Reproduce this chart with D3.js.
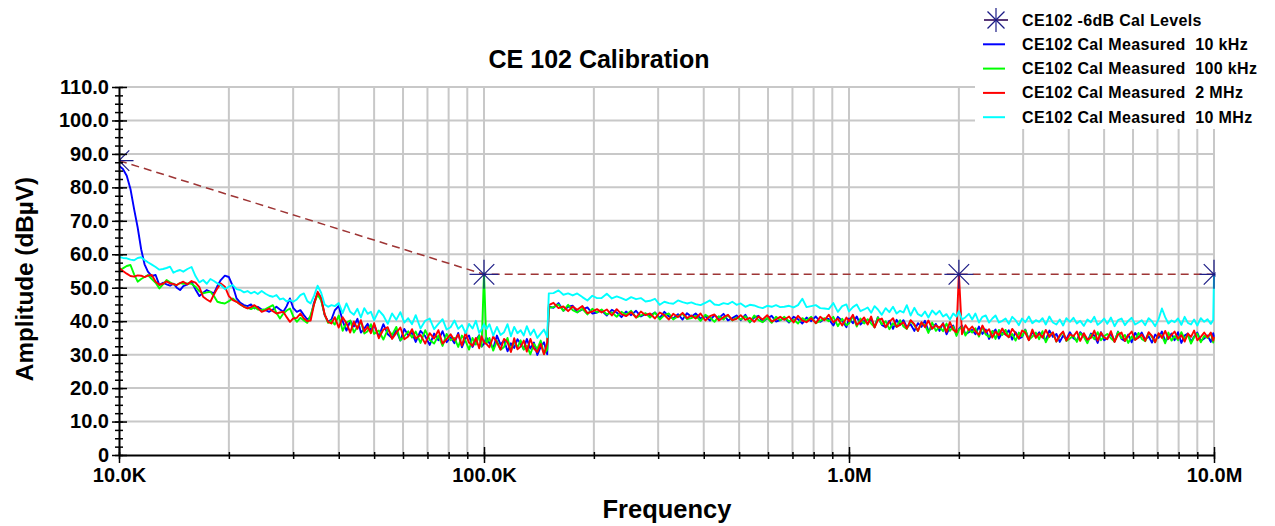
<!DOCTYPE html>
<html><head><meta charset="utf-8">
<script src="https://cdn.jsdelivr.net/npm/d3@7"></script>
<style>
body{margin:0;background:#fff}
text{font-family:"Liberation Sans",Arial,sans-serif;font-weight:bold;fill:#000}
</style>
</head><body>
<svg id="c" width="1275" height="526"></svg>
<script>
// ---------- DATA ----------
const freqKHz = [
10,10.25,10.5,10.75,11,11.25,11.5,11.75,12,12.3,
12.6,12.9,13.2,13.5,13.8,14.1,14.4,14.7,15,15.4,
15.8,16.2,16.6,17,17.4,17.8,18.2,18.6,19,19.5,
20,20.5,21,21.5,22,22.5,23,23.5,24,24.6,
25.2,25.8,26.4,27,27.6,28.2,28.8,29.4,30,30.7,
31.4,32.1,32.8,33.5,34.2,35,35.8,36.6,37.4,38.2,
39,40,41,42,43,44,45,46,47,48,
49,50,51.5,53,54.5,56,57.5,59,60.5,62,
63.5,65,67,69,71,73,75,77,79,81,
83,85,87,89,91,93,95,97,98.5,100,
101.5,103.5,106,108.5,111,113.5,116,118.5,121,123.5,
126,128.5,131,134,137,140,143,146,149,150.5,
155,160,165,170,175,180,186,192,198,204,
210,217,224,231,238,245,253,261,269,277,
285,294,303,312,321,330,340,350,360,370,
380,392,404,416,428,440,453,466,479,492,
505,520,535,550,565,580,597,614,631,648,
665,685,705,725,745,765,788,811,834,857,
880,906,932,958,984,1000,1025,1050,1075,1100,
1125,1150,1175,1200,1230,1260,1290,1320,1350,1380,
1410,1440,1475,1510,1545,1580,1615,1650,1690,1730,
1770,1810,1850,1890,1930,1970,2000,2040,2085,2130,
2175,2220,2270,2320,2370,2420,2470,2520,2575,2630,
2685,2740,2800,2860,2920,2980,3040,3110,3180,3250,
3320,3390,3460,3540,3620,3700,3780,3860,3940,4030,
4120,4210,4300,4400,4500,4600,4700,4800,4900,5000,
5100,5220,5340,5460,5580,5700,5820,5950,6080,6210,
6340,6480,6620,6760,6900,7050,7200,7350,7500,7650,
7800,7970,8140,8310,8480,8650,8820,9000,9200,9400,
9600,9800,9950,10000];

const measured10kHz = [
86.5,85.5,83.5,79.5,73.5,68,61.5,57,54.8,53.5,
53.8,50.8,51.5,51,50.6,51.2,50,49.3,50.5,51,
51.8,49.5,47.5,48.5,49.3,48.8,48.3,50.5,52.3,53.6,
53.2,50.5,46.8,45.5,44.8,44.5,45,43.8,44.3,43.5,
43.3,42.8,43.5,44.3,43.5,42.8,44.5,46.8,44,42.8,
43.3,41.8,40.5,41.2,45.5,48.3,46.5,41.8,39.8,40.5,
43.2,44.6,40.0,37.2,40.1,38.4,40.7,36.6,37.8,39.2,
37.2,38.9,35.4,39.1,36.1,35.0,37.3,34.2,37.7,35.8,
36.5,33.8,37.1,35.5,32.9,36.3,34.3,37.0,33.7,35.2,
33.4,36.5,32.2,34.9,35.7,32.3,34.2,35.8,32.4,33.3,
35.1,33.4,31.9,35.7,33.0,34.3,31.0,33.4,32.0,34.6,
33.3,31.6,34.7,31.8,33.6,29.9,32.3,33.7,30.1,44.3,
44.0,45.4,43.1,44.3,44.6,42.7,43.5,44.1,42.3,42.6,
43.2,41.7,43.4,42.6,41.2,42.9,41.8,43.1,41.4,42.2,
41.7,42.6,40.9,42.8,41.4,40.8,42.1,40.5,42.4,41.3,
42.3,40.8,41.5,40.2,41.8,40.9,42.2,40.2,40.9,41.7,
40.3,41.9,39.7,41.1,41.6,39.8,40.8,41.6,39.9,40.3,
41.0,39.6,41.3,40.6,39.3,41.1,40.0,41.4,39.8,40.7,
40.7,38.7,41.3,40.1,38.2,40.8,39.4,41.4,39.0,40.1,
39.3,40.7,38.2,41.2,38.9,38.2,40.1,37.7,40.4,38.9,
40.3,38.2,39.1,37.1,39.4,38.3,40.1,37.1,38.0,39.2,
37.1,39.4,36.1,38.2,38.7,36.1,37.6,38.7,36.1,36.7,
37.4,36.1,38.4,36.2,37.5,34.7,36.5,37.5,34.8,36.6,
36.0,37.3,34.5,36.7,34.8,35.3,37.5,34.4,36.8,35.3,
36.7,35.4,34.3,37.2,35.3,36.2,33.8,35.7,34.6,36.7,
34.9,34.2,36.7,35.5,33.9,36.3,35.7,33.5,36.7,34.3,
34.9,36.3,33.9,36.9,34.7,34.1,36.0,33.7,36.5,35.1,
36.6,34.5,35.5,33.6,36.0,35.0,36.9,34.0,35.0,36.3,
34.3,36.7,33.5,35.7,36.3,33.8,35.4,36.6,34.1,34.8,
35.7,33.8,36.4,35.3];

const measured100kHz = [
55,55.8,56.5,56.8,54,51.8,52.6,53.2,53.8,52.6,
51.5,49.8,51,52.3,51.6,51,50.8,51.4,51.2,51.3,
51.2,50.3,49,48.3,48.6,48.8,47.5,45.8,45.5,45.3,
46,46.8,45.8,45,44.3,44,43.6,44.2,43.5,43.3,
43.6,44.2,44.8,42.5,40.8,42.3,43.2,43.8,41.5,39.8,
41,40.2,39.5,41.8,45,48,46.2,42,39.5,40.2,
39.0,41.7,37.1,39.6,40.2,36.6,38.3,39.8,36.3,37.0,
39.1,36.2,37.2,34.5,37.5,35.9,38.3,34.3,35.5,37.0,
35.1,36.9,33.5,37.3,34.4,33.3,35.7,32.6,36.2,34.3,
35.0,32.3,35.7,34.1,31.5,35.0,33.0,35.7,32.4,54.3,
33.3,35.0,31.2,34.1,31.5,32.3,35.0,31.0,34.1,32.1,
34.3,31.5,32.7,30.1,33.2,31.7,34.2,30.2,31.5,44,
44.2,45.0,43.1,44.9,43.3,42.6,43.7,42.0,43.7,42.6,
43.5,42.0,42.6,41.3,42.8,41.9,43.1,41.1,41.7,42.4,
41.1,42.6,40.5,41.8,42.3,40.5,41.5,42.2,40.6,40.9,
41.6,40.1,41.9,41.1,39.8,41.5,40.5,41.8,40.2,41.1,
40.5,41.5,39.7,41.7,40.3,39.7,41.0,39.5,41.3,40.3,
41.3,39.9,40.5,39.3,40.9,40.1,41.3,39.4,40.1,40.9,
40.0,41.3,38.5,40.7,38.8,39.3,41.5,38.4,40.8,39.3,
40.6,39.3,38.2,41.1,39.1,40.0,37.6,39.4,38.3,40.3,
38.4,37.7,40.1,38.8,37.1,39.5,38.8,36.5,39.6,37.1,
38.3,37.0,39.3,37.1,38.4,35.6,37.4,38.4,35.7,37.5,
36.6,37.9,35.4,38.3,36.0,35.3,37.1,34.7,37.4,35.9,
37.4,35.2,36.2,34.2,36.6,35.5,37.4,34.4,35.4,36.6,
34.6,37.0,33.7,35.9,36.5,33.9,35.5,36.7,34.1,34.8,
35.7,33.8,36.4,35.3,33.4,36.0,34.6,36.7,34.3,35.5,
36.2,34.9,33.9,36.8,34.9,35.9,33.5,35.4,34.4,36.5,
34.7,34.0,36.5,35.3,33.7,36.2,35.6,33.4,36.6,34.2,
35.5,34.3,36.7,34.6,36.0,33.3,35.2,36.3,33.7,35.6,
35.0,36.4,33.6,35.2];

const measured2MHz = [
56,55,54.2,53.5,53.3,53.7,53.6,53.2,53.6,53.8,
51.8,50.9,51.2,51.9,51.3,51.1,50.8,51.4,51.8,51,
52,51.5,50.2,47.3,46.5,45.8,48,49.8,51.3,50.3,
47.5,46.3,45.8,45,44.3,43.8,44.2,44.8,44,42.8,
43.2,43.8,43,42.3,42.6,42.8,41.2,39.8,40.8,41,
42.3,40.8,40,40.2,44.8,48.8,47,42,39.8,39.3,
41.2,38.1,41.2,39.4,36.6,39.9,37.7,40.3,36.9,38.3,
36.4,39.4,34.9,37.5,38.2,34.7,36.5,38.1,34.6,35.4,
37.6,34.8,35.9,33.3,36.4,34.8,37.3,33.3,34.6,36.1,
34.2,36.0,32.7,36.5,33.6,32.6,35.0,31.9,35.5,33.7,
33.2,32.2,35.4,33.6,31.5,34.7,33.7,30.8,34.9,31.6,
32.4,34.2,30.9,34.7,31.8,30.8,33.2,30.1,33.7,44.8,
45.5,43.9,44.4,43.0,44.4,43.4,44.5,42.4,42.9,43.6,
42.6,43.5,41.7,43.6,42.1,41.5,42.7,41.1,42.9,41.8,
42.3,40.8,42.6,41.8,40.5,42.2,41.2,42.5,40.9,41.7,
40.8,42.3,40.2,41.5,42.0,40.2,41.2,41.9,40.3,40.7,
41.8,40.4,41.0,39.8,41.4,40.5,41.8,39.9,40.5,41.3,
40.4,41.4,39.6,41.6,40.2,39.7,40.9,39.4,41.3,40.3,
41.9,39.7,40.7,38.7,41.1,40.0,41.9,38.9,39.9,41.1,
39.0,41.4,38.1,40.3,40.8,38.2,39.8,40.9,38.3,38.9,
39.7,37.8,40.3,39.1,37.1,39.7,38.2,40.2,37.7,38.8,
38.0,39.3,36.8,39.7,37.4,36.7,54.3,36.1,38.8,37.3,
38.4,37.0,35.9,38.7,36.7,37.6,35.1,36.9,35.8,37.8,
36.0,35.2,37.7,36.4,34.8,37.2,36.6,34.3,37.5,35.0,
36.3,35.1,37.4,35.3,36.7,33.9,35.8,36.9,34.2,36.1,
35.5,36.9,34.1,36.4,34.5,35.0,37.2,34.2,36.6,35.2,
34.6,37.0,33.8,36.0,36.6,34.1,35.7,36.9,34.4,35.1,
36.0,34.1,36.7,35.6,33.7,36.4,35.0,37.1,34.7,35.9,
36.9,34.8,35.8,33.9,36.3,35.3,37.2,34.3,35.3,36.6,
35.2,36.6,34.2,35.3];

const measured10MHz = [
59.2,58.9,58.8,58.4,58.2,58.9,59.1,58.3,57.6,56.9,
56.2,55.4,55.6,55.9,56.3,54.5,55,55.3,54.8,55.6,
56.2,53.5,51.6,52.3,51.2,52.6,52,51.3,50.8,49.6,
50.3,50.8,49.6,49.3,48.6,49,48.3,48.8,48.1,49,
48.2,47.6,47.3,47.8,46.5,46.8,45.9,46.3,45.8,46.5,
47.8,48.3,46,45.3,47.5,50.6,48.5,45,44.3,44.8,
44.5,45.4,42.4,45.3,42.8,41.9,43.7,41.1,43.9,42.2,
42.8,40.3,43.2,41.7,39.2,42.3,40.4,42.7,39.6,40.9,
39.1,41.8,37.8,40.1,40.8,37.6,39.2,40.6,37.5,38.2,
40.2,37.7,38.8,36.4,39.2,37.8,40.1,36.5,37.6,39.1,
37.6,39.1,35.7,38.3,35.9,36.7,39.1,35.5,38.3,36.4,
37.3,35.7,38.5,35.9,37.5,35.0,36.3,37.5,35.2,48.3,
48.4,49.2,47.9,48.3,47.7,48.3,47.2,46.2,47.6,46.9,
46.9,48.2,46.8,47.4,46.9,46.3,47.2,46.6,46.9,45.9,
46.1,46.7,44.9,45.8,45.4,45.2,46.2,45.7,45.3,45.6,
45.1,44.8,45.5,46.2,45,44.8,45.4,45.1,45.8,44.9,
45.3,44.3,44.9,44.7,44.2,43.9,44.6,44.3,44.8,44.2,
44.3,44.6,44.1,44.8,46.7,44.2,44.5,44.8,43.9,43.8,
43.6,45.4,42.8,44.5,45.0,42.9,44.2,45.0,43.0,43.5,
44.1,42.5,44.5,43.5,41.9,43.9,42.7,44.3,42.3,43.1,
42.6,44.8,41.7,44.0,42.1,41.5,42.9,41.1,43.2,42.0,
43.1,41.4,42.1,40.5,42.3,41.4,43.0,40.5,41.2,42.2,
40.5,42.3,39.6,41.3,41.7,39.6,40.8,41.7,39.6,40.1,
40.8,39.2,41.3,40.3,38.8,40.8,39.7,41.4,39.4,40.3,
39.8,40.9,39.0,41.4,39.6,39.0,40.5,38.7,40.9,39.8,
41.0,39.3,40.1,38.6,40.5,39.7,41.3,38.9,39.7,40.8,
39.2,41.1,38.5,40.3,40.8,38.8,40.1,41.0,39.0,39.6,
40.3,38.8,40.9,40.0,38.5,40.6,43.8,41.2,39.3,40.2,
39.7,40.8,38.9,41.3,39.5,39.0,40.5,38.7,40.9,39.8,
40.6,39.2,40.3,54];

const calFreqKHz = [10, 100, 2000, 10000];
const calLevel   = [88, 54, 54, 54];

const yTickValues = [0,10,20,30,40,50,60,70,80,90,100,110];
const yTickLabels = ["0","10.0","20.0","30.0","40.0","50.0","60.0","70.0","80.0","90.0","100.0","110.0"];
const xTickValues = [10,100,1000,10000];
const xTickLabels = ["10.0K","100.0K","1.0M","10.0M"];

const seriesNames  = ["CE102 Cal Measured  10 kHz","CE102 Cal Measured  100 kHz","CE102 Cal Measured  2 MHz","CE102 Cal Measured  10 MHz"];
const seriesColors = ["#0000ff","#00ff00","#ff0000","#00ffff"];
const calName = "CE102 -6dB Cal Levels";

// ---------- DRAW ----------
const W = 1275, H = 526;
const L = 119, R = 1214, T = 87, B = 455;
const svg = d3.select("#c");
const x = d3.scaleLog().domain([10, 10000]).range([L, R]);
const y = d3.scaleLinear().domain([0, 110]).range([B, T]);

svg.append("rect").attr("width", W).attr("height", H).attr("fill", "#fff");

const defs = svg.append("defs");
defs.append("clipPath").attr("id", "plotclip").append("rect")
  .attr("x", L).attr("y", T - 2).attr("width", R - L + 1.5).attr("height", B - T + 2);

// grid
const grid = svg.append("g").attr("stroke", "#c8c8c8").attr("stroke-width", 2);
grid.selectAll("line.v").data(x.ticks().filter(d => d > 10)).join("line")
  .attr("x1", d => x(d)).attr("x2", d => x(d)).attr("y1", T).attr("y2", B);
grid.selectAll("line.h").data(yTickValues.filter(d => d > 0)).join("line")
  .attr("x1", L).attr("x2", R).attr("y1", d => y(d)).attr("y2", d => y(d));

const plot = svg.append("g").attr("clip-path", "url(#plotclip)");

// cal dashed line
plot.append("path")
  .datum(calLevel)
  .attr("fill", "none").attr("stroke", "#9e3535").attr("stroke-width", 1.5)
  .attr("stroke-dasharray", "8,5")
  .attr("d", d3.line().x((d, i) => x(calFreqKHz[i])).y(d => y(d)));

// measured series
const allSeries = [measured10kHz, measured100kHz, measured2MHz, measured10MHz];
const line = d3.line().x((d, i) => x(freqKHz[i])).y(d => y(d));
allSeries.forEach((s, k) => {
  plot.append("path").datum(s)
    .attr("fill", "none").attr("stroke", seriesColors[k]).attr("stroke-width", 1.9)
    .attr("stroke-linejoin", "round")
    .attr("d", line);
});

// star markers
function star(g, cx, cy, r) {
  [0, 45, 90, 135].forEach(a => {
    const rad = a * Math.PI / 180;
    g.append("line")
      .attr("x1", cx - r * Math.cos(rad)).attr("y1", cy - r * Math.sin(rad))
      .attr("x2", cx + r * Math.cos(rad)).attr("y2", cy + r * Math.sin(rad))
      .attr("stroke", "#1c1c86").attr("stroke-width", 1.2);
  });
}
calLevel.forEach((v, i) => star(plot, x(calFreqKHz[i]), y(v), 14.5));

// axes
const yMinor = d3.range(0, 110.01, 2.5);
const ax1 = svg.append("g").attr("transform", `translate(${L},0)`)
  .call(d3.axisLeft(y).tickValues(yMinor).tickSize(4).tickFormat("").tickSizeOuter(0));
ax1.select(".domain").remove();
const ax2 = svg.append("g").attr("transform", `translate(${L},0)`)
  .call(d3.axisRight(y).tickValues(yMinor).tickSize(4).tickFormat("").tickSizeOuter(0));
ax2.select(".domain").remove();
const ax3 = svg.append("g").attr("transform", `translate(${L},0)`)
  .call(d3.axisRight(y).tickValues(yTickValues).tickSize(8).tickFormat("").tickSizeOuter(0));
ax3.select(".domain").remove();
svg.append("g").attr("transform", `translate(${L},0)`)
  .call(d3.axisLeft(y).tickValues(yTickValues).tickFormat((d, i) => yTickLabels[i]).tickSize(7).tickPadding(3).tickSizeOuter(0));

const xMinor = x.ticks();
const bx1 = svg.append("g").attr("transform", `translate(0,${B})`)
  .call(d3.axisBottom(x).tickValues(xMinor).tickSize(4).tickFormat("").tickSizeOuter(0));
bx1.select(".domain").remove();
const bx2 = svg.append("g").attr("transform", `translate(0,${B})`)
  .call(d3.axisTop(x).tickValues(xMinor).tickSize(3).tickFormat("").tickSizeOuter(0));
bx2.select(".domain").remove();
const bx3 = svg.append("g").attr("transform", `translate(0,${B})`)
  .call(d3.axisTop(x).tickValues(xTickValues).tickSize(8).tickFormat("").tickSizeOuter(0));
bx3.select(".domain").remove();
svg.append("g").attr("transform", `translate(0,${B})`)
  .call(d3.axisBottom(x).tickValues(xTickValues).tickFormat((d, i) => xTickLabels[i]).tickSize(8).tickPadding(5).tickSizeOuter(0));

svg.selectAll(".tick line").attr("stroke", "#000").attr("stroke-width", 1.5);
svg.selectAll(".domain").attr("stroke", "#000").attr("stroke-width", 2);
svg.selectAll(".tick text").attr("font-size", 20).attr("font-family", "Liberation Sans, Arial, sans-serif").attr("font-weight", "bold").attr("fill", "#000");

// titles
svg.append("text").attr("x", 599).attr("y", 68).attr("text-anchor", "middle")
  .attr("font-size", 25).text("CE 102 Calibration");
svg.append("text").attr("x", 667).attr("y", 518).attr("text-anchor", "middle")
  .attr("font-size", 25.5).text("Frequency");
svg.append("text").attr("transform", "translate(33,279) rotate(-90)").attr("text-anchor", "middle")
  .attr("font-size", 24.3).text("Amplitude (dBµV)");

// legend
const lg = svg.append("g");
lg.append("rect").attr("x", 975).attr("y", 0).attr("width", 300).attr("height", 129).attr("fill", "#fff");
const rowY = i => 20 + i * 24.3;
lg.append("line").attr("x1", 984).attr("x2", 1008).attr("y1", rowY(0)).attr("y2", rowY(0))
  .attr("stroke", "#9e3535").attr("stroke-width", 1.5);
star(lg, 996, rowY(0), 12);
lg.append("text").attr("x", 1022).attr("y", rowY(0) + 5.5).attr("font-size", 16)
  .style("letter-spacing", "0.35px").style("white-space", "pre").text(calName);
seriesNames.forEach((n, i) => {
  lg.append("line").attr("x1", 983).attr("x2", 1005).attr("y1", rowY(i + 1)).attr("y2", rowY(i + 1))
    .attr("stroke", seriesColors[i]).attr("stroke-width", 2);
  lg.append("text").attr("x", 1022).attr("y", rowY(i + 1) + 5.5).attr("font-size", 16)
    .style("letter-spacing", "0.35px").style("white-space", "pre").text(n);
});
</script>
</body></html>
